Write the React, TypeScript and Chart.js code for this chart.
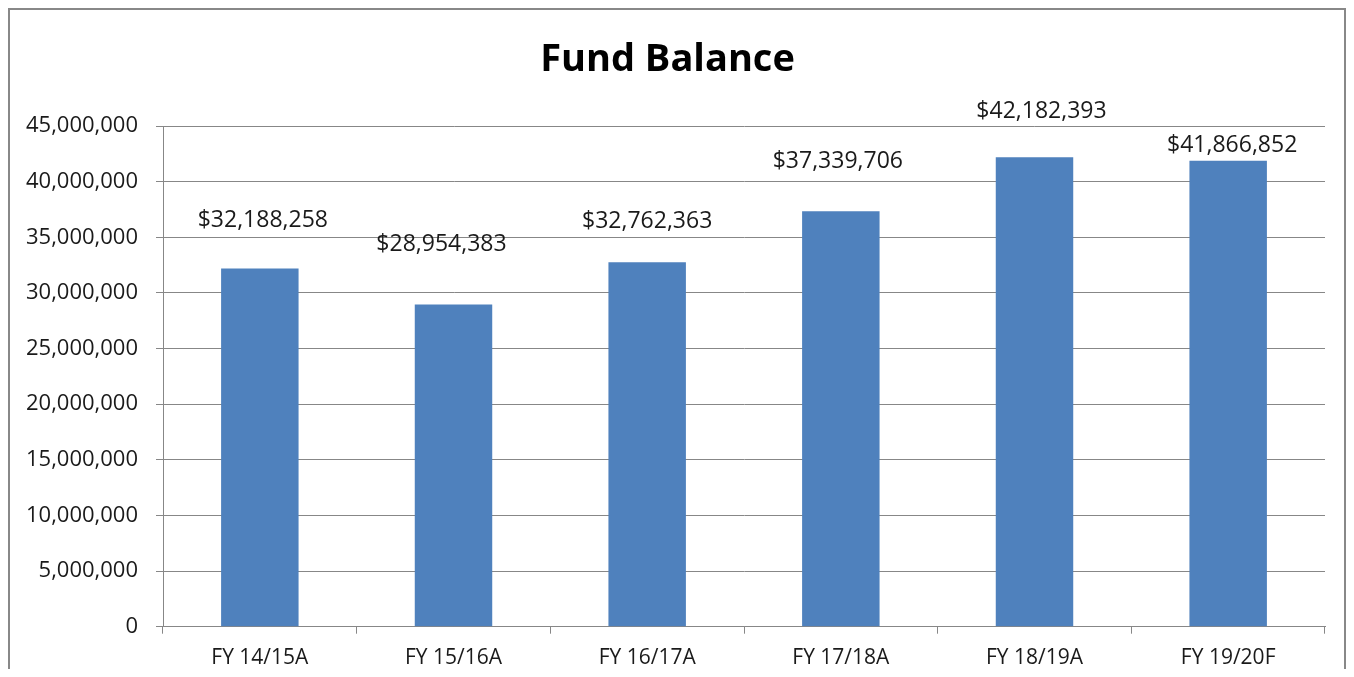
import React, { useEffect, useRef } from "react";
import { Chart, registerables } from "chart.js";

Chart.register(...registerables);

const CATEGORIES = ["FY 14/15A", "FY 15/16A", "FY 16/17A", "FY 17/18A", "FY 18/19A", "FY 19/20F"];
const FUND_BALANCE = [32188258, 28954383, 32762363, 37339706, 42182393, 41866852];
const Y_MIN = 0;
const Y_MAX = 45000000;
const Y_STEP = 5000000;
const TITLE = "Fund Balance";

// Manual data-label placement (pixel offsets from the top-centre of each bar)
const LABEL_OFFSETS: [number, number][] = [
  [3, -48],
  [-12, -60],
  [0, -41],
  [-3, -50],
  [7, -46],
  [4, -15],
];

const FONT = "'Open Sans', 'Noto Sans', sans-serif";
const TEXT = "#1a1a1a";
const GRID = "#878787";

const fmt = (v: number) => v.toLocaleString("en-US");

const barLabels = {
  id: "barLabels",
  afterDatasetsDraw(chart: any) {
    const ctx = chart.ctx;
    const meta = chart.getDatasetMeta(0);
    ctx.save();
    ctx.font = `23px ${FONT}`;
    ctx.fillStyle = TEXT;
    ctx.textAlign = "center";
    ctx.textBaseline = "middle";
    meta.data.forEach((bar: any, i: number) => {
      const [dx, dy] = LABEL_OFFSETS[i];
      ctx.fillText("$" + fmt(FUND_BALANCE[i]), bar.x + dx, bar.y + dy);
    });
    ctx.restore();
  },
};

export default function App() {
  const ref = useRef<HTMLCanvasElement>(null);

  useEffect(() => {
    if (!ref.current) return;
    const chart = new Chart(ref.current, {
      type: "bar",
      data: {
        labels: CATEGORIES,
        datasets: [
          {
            label: TITLE,
            data: FUND_BALANCE,
            backgroundColor: "#4F81BD",
            borderWidth: 0,
            barPercentage: 0.4,
            categoryPercentage: 1,
          },
        ],
      },
      options: {
        responsive: false,
        animation: false,
        devicePixelRatio: 1,
        layout: { padding: { left: 0, right: 19, top: 0, bottom: 0 } },
        plugins: {
          legend: { display: false },
          tooltip: { enabled: false },
          title: {
            display: true,
            text: TITLE,
            color: "#000",
            font: { family: FONT, size: 38, weight: "bold", lineHeight: 1.2 },
            padding: { top: 27, bottom: 43.4 },
          },
        },
        scales: {
          x: {
            grid: {
              offset: true,
              drawOnChartArea: false,
              drawTicks: true,
              tickLength: 7,
              color: GRID,
            },
            border: { display: true, color: GRID, width: 1 },
            ticks: {
              color: TEXT,
              font: { family: FONT, size: 21 },
              padding: 12,
              maxRotation: 0,
            },
            afterFit: (scale: any) => {
              scale.height = 42.3;
            },
          },
          y: {
            min: Y_MIN,
            max: Y_MAX,
            ticks: {
              stepSize: Y_STEP,
              color: TEXT,
              font: { family: FONT, size: 22 },
              padding: 18,
              callback: (v: any) => fmt(Number(v)),
            },
            grid: { color: GRID, tickLength: 7, drawTicks: true },
            border: { display: true, color: GRID, width: 1 },
            afterFit: (scale: any) => {
              scale.width = 153;
            },
          },
        },
      },
      plugins: [barLabels],
    });
    return () => chart.destroy();
  }, []);

  return (
    <div
      style={{
        border: "2px solid #888",
        borderBottom: "none",
        width: 1334,
        height: 659,
        background: "#fff",
      }}
    >
      <canvas ref={ref} width={1334} height={659} style={{ display: "block" }} />
    </div>
  );
}
